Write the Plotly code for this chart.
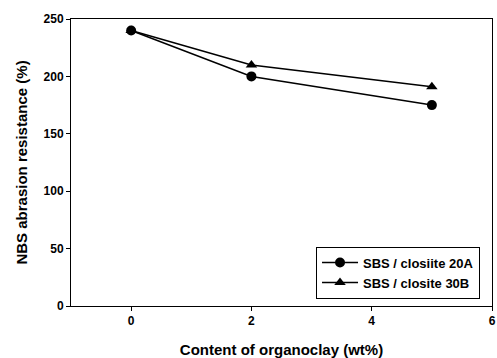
import plotly.graph_objects as go

x_vals = [0, 2, 5]
sbs_20a = [240, 200, 175]
sbs_30b = [240, 210, 191]
x_ticks = [0, 2, 4, 6]
y_ticks = [0, 50, 100, 150, 200, 250]

fig = go.Figure()
fig.add_trace(go.Scatter(x=x_vals, y=sbs_20a, mode="lines+markers", name="SBS / closiite 20A",
                         line=dict(color="black", width=1.5),
                         marker=dict(symbol="circle", size=10, color="black")))
fig.add_trace(go.Scatter(x=x_vals, y=sbs_30b, mode="lines+markers", name="SBS / closite 30B",
                         line=dict(color="black", width=1.5),
                         marker=dict(symbol="triangle-up", size=10, color="black")))

font_family = "Liberation Sans, Arial, sans-serif"
fig.update_layout(
    width=497, height=358,
    margin=dict(l=71, r=1, t=19, b=52),
    paper_bgcolor="white", plot_bgcolor="white",
    font=dict(family=font_family, color="black"),
    showlegend=True,
    legend=dict(x=0.582, y=0.207, xanchor="left", yanchor="top",
                bordercolor="black", borderwidth=1, bgcolor="white",
                font=dict(size=13, family=font_family, weight="bold"),
                tracegroupgap=0, itemwidth=36),
    xaxis=dict(range=[-1, 6], tickvals=x_ticks, ticks="outside", ticklen=4, tickcolor="black",
               showline=True, linecolor="black", linewidth=1, mirror=True, showgrid=False,
               zeroline=False, ticklabeloverflow="allow",
               tickfont=dict(size=12, weight="bold"),
               title=dict(text="Content of organoclay (wt%)", font=dict(size=15, weight="bold"), standoff=18)),
    yaxis=dict(range=[0, 250], tickvals=y_ticks, ticks="outside", ticklen=4, tickcolor="black",
               showline=True, linecolor="black", linewidth=1, mirror=True, showgrid=False,
               zeroline=False,
               tickfont=dict(size=12, weight="bold"),
               title=dict(text="NBS abrasion resistance (%)", font=dict(size=15, weight="bold"), standoff=12)),
)
fig.write_html("out.html")
